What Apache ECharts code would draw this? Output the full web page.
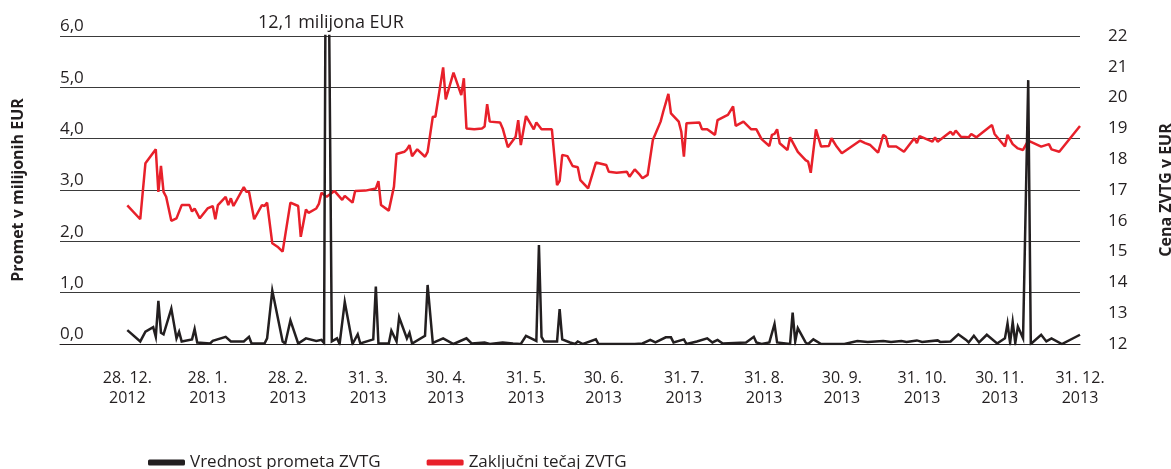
<!DOCTYPE html>
<html>
<head>
<meta charset="utf-8">
<script src="https://cdn.jsdelivr.net/npm/echarts@6/dist/echarts.min.js"></script>
<style>
html,body{margin:0;padding:0;background:#fff;}
#c{width:1171px;height:469px;}
</style>
</head>
<body>
<div id="c"></div>
<script>
// ---- DATA ----
const priceDates = ['2012-12-28','2013-01-02','2013-01-04','2013-01-07','2013-01-08','2013-01-09','2013-01-10','2013-01-11','2013-01-12','2013-01-14','2013-01-16','2013-01-18','2013-01-21','2013-01-22','2013-01-23','2013-01-25','2013-01-28','2013-01-30','2013-01-31','2013-02-01','2013-02-04','2013-02-05','2013-02-06','2013-02-07','2013-02-11','2013-02-12','2013-02-13','2013-02-15','2013-02-18','2013-02-19','2013-02-20','2013-02-22','2013-02-24','2013-02-26','2013-03-01','2013-03-04','2013-03-05','2013-03-07','2013-03-08','2013-03-11','2013-03-12','2013-03-13','2013-03-15','2013-03-18','2013-03-21','2013-03-22','2013-03-25','2013-03-26','2013-03-30','2013-04-03','2013-04-04','2013-04-05','2013-04-08','2013-04-10','2013-04-11','2013-04-14','2013-04-15','2013-04-16','2013-04-17','2013-04-19','2013-04-22','2013-04-23','2013-04-25','2013-04-26','2013-04-29','2013-04-30','2013-05-03','2013-05-06','2013-05-07','2013-05-08','2013-05-11','2013-05-14','2013-05-15','2013-05-16','2013-05-17','2013-05-21','2013-05-22','2013-05-24','2013-05-27','2013-05-28','2013-05-29','2013-05-31','2013-06-03','2013-06-04','2013-06-06','2013-06-10','2013-06-12','2013-06-13','2013-06-14','2013-06-16','2013-06-18','2013-06-20','2013-06-21','2013-06-24','2013-06-27','2013-07-01','2013-07-02','2013-07-05','2013-07-09','2013-07-10','2013-07-12','2013-07-14','2013-07-15','2013-07-17','2013-07-19','2013-07-22','2013-07-23','2013-07-25','2013-07-26','2013-07-29','2013-07-30','2013-07-31','2013-08-01','2013-08-06','2013-08-07','2013-08-09','2013-08-12','2013-08-13','2013-08-16','2013-08-17','2013-08-19','2013-08-20','2013-08-23','2013-08-26','2013-08-28','2013-08-30','2013-09-02','2013-09-03','2013-09-04','2013-09-05','2013-09-06','2013-09-09','2013-09-10','2013-09-13','2013-09-16','2013-09-17','2013-09-18','2013-09-20','2013-09-22','2013-09-25','2013-09-26','2013-09-28','2013-09-30','2013-10-07','2013-10-09','2013-10-11','2013-10-14','2013-10-16','2013-10-17','2013-10-18','2013-10-21','2013-10-24','2013-10-28','2013-10-29','2013-10-30','2013-11-04','2013-11-05','2013-11-06','2013-11-11','2013-11-12','2013-11-13','2013-11-15','2013-11-18','2013-11-19','2013-11-21','2013-11-27','2013-11-28','2013-12-02','2013-12-03','2013-12-05','2013-12-07','2013-12-09','2013-12-11','2013-12-16','2013-12-19','2013-12-20','2013-12-23','2013-12-31'];
const priceValues = [16.5,16.05,17.87,18.21,18.32,16.94,17.78,16.94,16.78,16.0,16.08,16.51,16.51,16.3,16.4,16.08,16.4,16.48,16.05,16.51,16.78,16.51,16.73,16.48,17.09,16.94,16.94,16.05,16.51,16.48,16.59,15.27,15.16,15.0,16.59,16.48,15.48,16.37,16.26,16.4,16.55,16.91,16.78,16.97,16.68,16.81,16.59,16.97,16.98,17.05,17.29,16.51,16.33,17.11,18.17,18.24,18.32,18.46,18.1,18.32,18.08,18.24,19.38,19.38,20.98,19.94,20.81,20.08,20.63,19.0,18.97,19.0,19.06,19.79,19.22,19.19,19.0,18.39,18.73,19.27,18.46,19.4,18.97,19.19,18.97,18.97,17.16,17.3,18.14,18.1,17.78,17.74,17.32,17.05,17.89,17.81,17.59,17.56,17.59,17.43,17.67,17.49,17.38,17.49,18.62,19.22,19.54,20.12,19.49,19.22,18.89,18.08,19.17,19.19,18.97,18.97,18.79,19.27,19.4,19.44,19.71,19.08,19.22,18.97,18.97,18.65,18.43,18.79,18.82,18.97,18.52,18.3,18.71,18.24,17.97,17.92,17.56,18.97,18.41,18.43,18.68,18.41,18.19,18.6,18.52,18.46,18.21,18.79,18.73,18.41,18.41,18.24,18.68,18.52,18.75,18.57,18.71,18.57,18.89,18.79,18.93,18.73,18.71,18.82,18.71,19.11,18.82,18.41,18.79,18.49,18.35,18.3,18.6,18.41,18.49,18.32,18.24,19.08];

const volumeDates = ['2012-12-28','2013-01-02','2013-01-04','2013-01-07','2013-01-08','2013-01-09','2013-01-10','2013-01-11','2013-01-14','2013-01-16','2013-01-17','2013-01-18','2013-01-22','2013-01-23','2013-01-24','2013-01-29','2013-01-30','2013-02-04','2013-02-06','2013-02-11','2013-02-13','2013-02-14','2013-02-19','2013-02-20','2013-02-22','2013-02-26','2013-02-27','2013-03-01','2013-03-04','2013-03-07','2013-03-11','2013-03-13','2013-03-14','2013-03-15','2013-03-17','2013-03-19','2013-03-20','2013-03-22','2013-03-25','2013-03-27','2013-03-28','2013-04-02','2013-04-03','2013-04-04','2013-04-08','2013-04-09','2013-04-11','2013-04-12','2013-04-15','2013-04-16','2013-04-17','2013-04-22','2013-04-23','2013-04-25','2013-04-29','2013-05-03','2013-05-08','2013-05-10','2013-05-15','2013-05-17','2013-05-22','2013-05-26','2013-05-29','2013-05-31','2013-06-02','2013-06-04','2013-06-05','2013-06-06','2013-06-07','2013-06-12','2013-06-13','2013-06-14','2013-06-17','2013-06-19','2013-06-20','2013-06-22','2013-06-27','2013-06-28','2013-07-12','2013-07-15','2013-07-18','2013-07-20','2013-07-24','2013-07-26','2013-07-27','2013-07-31','2013-08-01','2013-08-05','2013-08-09','2013-08-11','2013-08-13','2013-08-15','2013-08-24','2013-08-27','2013-08-28','2013-08-30','2013-09-02','2013-09-04','2013-09-05','2013-09-10','2013-09-11','2013-09-12','2013-09-13','2013-09-16','2013-09-17','2013-09-19','2013-09-22','2013-10-01','2013-10-06','2013-10-10','2013-10-16','2013-10-19','2013-10-23','2013-10-25','2013-10-29','2013-10-31','2013-11-06','2013-11-07','2013-11-11','2013-11-14','2013-11-17','2013-11-18','2013-11-20','2013-11-22','2013-11-25','2013-11-29','2013-12-02','2013-12-03','2013-12-04','2013-12-05','2013-12-06','2013-12-07','2013-12-09','2013-12-11','2013-12-12','2013-12-16','2013-12-18','2013-12-20','2013-12-24','2013-12-31'];
const volumeValues = [0.27,0.05,0.24,0.33,0.14,0.84,0.22,0.19,0.69,0.11,0.24,0.05,0.09,0.29,0.03,0.01,0.06,0.14,0.05,0.05,0.14,0.01,0.01,0.11,1.04,0.05,0.01,0.46,0.01,0.11,0.06,0.08,0.02,12.1,0.05,0.11,0.0,0.82,0.0,0.19,0.01,0.09,1.12,0.01,0.01,0.26,0.05,0.52,0.11,0.22,0.01,0.16,1.15,0.02,0.11,0.0,0.11,0.01,0.03,0.0,0.03,0.01,0.0,0.16,0.11,0.06,1.93,0.14,0.05,0.05,0.68,0.09,0.03,0.0,0.05,0.0,0.09,0.0,0.0,0.01,0.08,0.03,0.13,0.13,0.03,0.09,0.0,0.05,0.11,0.03,0.08,0.01,0.03,0.14,0.03,0.0,0.03,0.39,0.03,0.0,0.61,0.05,0.31,0.03,0.0,0.09,0.0,0.0,0.06,0.04,0.06,0.04,0.06,0.04,0.07,0.04,0.07,0.04,0.05,0.19,0.08,0.03,0.16,0.03,0.18,0.01,0.11,0.4,0.02,0.43,0.02,0.34,0.11,5.14,0.0,0.18,0.05,0.11,0.0,0.18];

const tickDates = ['2012-12-28','2013-01-28','2013-02-28','2013-03-31','2013-04-30','2013-05-31','2013-06-30','2013-07-31','2013-08-31','2013-09-30','2013-10-31','2013-11-30','2013-12-31'];
const tickLabels = ['28. 12.\n2012','28. 1.\n2013','28. 2.\n2013','31. 3.\n2013','30. 4.\n2013','31. 5.\n2013','30. 6.\n2013','31. 7.\n2013','31. 8.\n2013','30. 9.\n2013','31. 10.\n2013','30. 11.\n2013','31. 12.\n2013'];

const seriesNames = ['Vrednost prometa ZVTG','Zaključni tečaj ZVTG'];
const leftAxisName = 'Promet v milijonih EUR';
const rightAxisName = 'Cena ZVTG v EUR';
const spikeNote = '12,1 milijona EUR';

// ---- BUILD ----
function ts(s){ const [y,m,d] = s.split('-').map(Number); return new Date(y, m-1, d).getTime(); }
const tickTs = tickDates.map(ts);
const volData = volumeDates.map((d,i)=>[ts(d), volumeValues[i]]);
const priceData = priceDates.map((d,i)=>[ts(d), priceValues[i]]);

const FONT = '"Open Sans", "Noto Sans", sans-serif';
const TXT = '#231f20';

const chart = echarts.init(document.getElementById('c'), null, {renderer:'canvas'});
chart.setOption({
  animation: false,
  backgroundColor: '#fff',
  textStyle: { fontFamily: FONT, color: TXT },
  grid: { left: 60, right: 91, top: 36, bottom: 125, containLabel: false, outerBoundsMode: 'none' },
  legend: {
    left: 143, top: 449,
    itemWidth: 37, itemHeight: 6, itemGap: 46,
    icon: 'roundRect',
    textStyle: { fontFamily: FONT, fontSize: 17, color: TXT },
    data: seriesNames
  },
  xAxis: {
    type: 'value',
    min: ts('2012-12-02'),
    max: ts('2013-12-31'),
    axisLine: { show: true, onZero: false, lineStyle: { color: '#231f20', width: 1 } },
    axisTick: { show: false },
    splitLine: { show: false },
    axisLabel: {
      customValues: tickTs,
      margin: 24,
      fontFamily: FONT, fontSize: 16, color: TXT, lineHeight: 20,
      hideOverlap: false,
      formatter: function(v){
        let best = 0, bd = Infinity;
        tickTs.forEach((t,i)=>{ const dd = Math.abs(t - v); if (dd < bd) { bd = dd; best = i; } });
        return tickLabels[best];
      }
    }
  },
  yAxis: [
    {
      type: 'value', position: 'left',
      min: 0, max: 6, interval: 1,
      name: leftAxisName, nameLocation: 'middle', nameGap: 34, nameRotate: 90,
      nameTextStyle: { fontFamily: FONT, fontSize: 16, fontWeight: 'bold', color: TXT },
      axisLine: { show: false }, axisTick: { show: false },
      splitLine: { show: true, lineStyle: { color: '#3a3a3a', width: 1 } },
      axisLabel: {
        inside: true, margin: 0, verticalAlign: 'bottom', padding: [0,0,1,0],
        fontFamily: FONT, fontSize: 17, color: TXT,
        formatter: v => v.toFixed(1).replace('.', ',')
      }
    },
    {
      type: 'value', position: 'right',
      min: 12, max: 22, interval: 1,
      name: rightAxisName, nameLocation: 'middle', nameGap: 78, nameRotate: 90,
      nameTextStyle: { fontFamily: FONT, fontSize: 16, fontWeight: 'bold', color: TXT },
      axisLine: { show: false }, axisTick: { show: false },
      splitLine: { show: false },
      axisLabel: { margin: 28, fontFamily: FONT, fontSize: 17, color: TXT }
    }
  ],
  graphic: [{
    type: 'text', left: 258, top: 14,
    style: { text: spikeNote, font: '18px ' + FONT, fill: TXT }
  }],
  series: [
    {
      name: seriesNames[0], type: 'line', yAxisIndex: 0,
      data: volData, showSymbol: false, symbol: 'none', clip: true,
      lineStyle: { color: '#231f20', width: 2.5, join: 'miter' },
      itemStyle: { color: '#231f20' }, z: 3
    },
    {
      name: seriesNames[1], type: 'line', yAxisIndex: 1,
      data: priceData, showSymbol: false, symbol: 'none', clip: true,
      lineStyle: { color: '#e8202a', width: 2.5 },
      itemStyle: { color: '#e8202a' }, z: 2
    }
  ]
});
</script>
</body>
</html>
